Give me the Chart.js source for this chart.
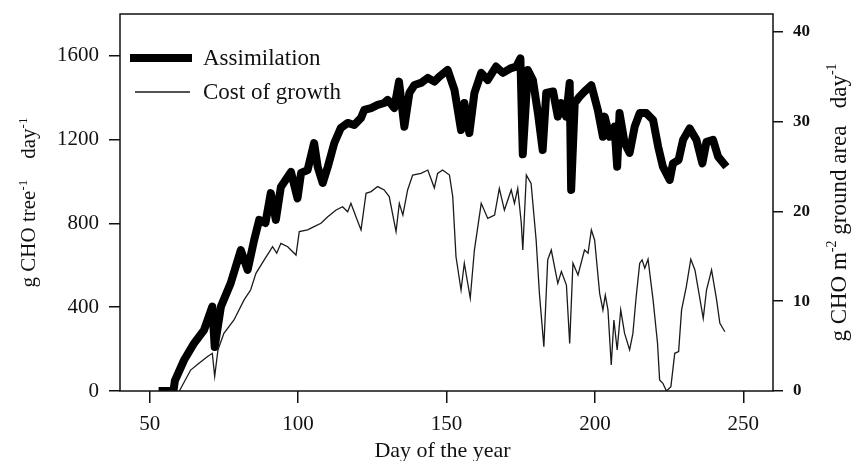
<!DOCTYPE html>
<html>
<head>
<meta charset="utf-8">
<script src="https://cdn.jsdelivr.net/npm/chart.js@4.4.1/dist/chart.umd.min.js"></script>
<style>
    html, body { margin: 0; padding: 0; background: #fff; }
    #wrap { width: 853px; height: 461px; }
</style>
</head>
<body>
<div id="wrap"><canvas id="carbonChart" width="853" height="461"></canvas></div>
<script>
// Daily assimilation (g CHO per tree per day)
const assimDays = [
    53, 55, 58, 58.5, 61.6, 65, 68.3, 71.1, 71.9, 74, 77.3, 80.7, 83, 85.2, 86.9, 89, 90.8, 92.5, 94.2,
    97.6, 99.8, 101, 103.2, 105.4, 106.6, 108.3, 110, 112.2, 114.4, 116.7, 118.9, 121.2, 122.3, 124.6,
    126.8, 129, 130.2, 132.4, 134, 135.8, 137.5, 139.2, 141.4, 143.7, 145.9, 147.6, 150.4, 152.7, 154.9,
    156, 157.7, 159.4, 161.7, 163.9, 166.7, 169, 171.8, 173.5, 174.9, 175.7, 177.4, 179.1, 180.8, 182.4,
    183.6, 185.9, 187.5, 188.7, 190.3, 191.5, 192, 193.2, 194.8, 196.5, 198.8, 201, 202.7, 203.3, 205,
    206.6, 207.5, 208.3, 210, 211.7, 213.4, 215.1, 217.3, 219.6, 221.3, 222.9, 225.2, 226.3, 228.2,
    229.7, 231.9, 234.2, 236.2, 237.6, 239.8, 241.5, 244.3
];
const assimValues = [
    0, 0, 0, 50, 148, 229, 291, 403, 210, 403, 515, 673, 578, 721, 817, 802, 945, 817, 974,
    1046, 920, 1041, 1055, 1184, 1070, 993, 1070, 1184, 1256, 1280, 1270, 1304, 1342, 1351,
    1366, 1375, 1390, 1351, 1477, 1262, 1423, 1461, 1471, 1495, 1477, 1501, 1533, 1437, 1246,
    1375, 1232, 1423, 1519, 1485, 1549, 1519, 1542, 1549, 1588, 1130, 1533, 1485, 1327, 1151,
    1423, 1430, 1310, 1375, 1310, 1471, 960, 1375, 1405, 1430, 1460, 1340, 1214, 1310, 1214,
    1262, 1071, 1327, 1184, 1137, 1262, 1327, 1327, 1294, 1167, 1071, 1008, 1087, 1103,
    1199, 1254, 1199, 1087, 1190, 1199, 1119, 1071
];

// Daily cost of growth (g CHO per tree per day)
const costDays = [
    60, 63.8, 66.6, 69.4, 71.1, 71.9, 73, 75, 78.4, 81.8, 84, 85.8, 88.6, 91.4, 92.8, 94.2, 96.5, 99.3,
    100.4, 103.2, 105.4, 107.7, 110, 112.8, 115, 116.7, 117.8, 119.5, 121.2, 122.9, 124.6, 126.8, 129,
    130.7, 133, 134.1, 135.3, 136.9, 138.6, 141.4, 143.7, 145.9, 147, 148.7, 151, 152.1, 153.2, 154.9,
    156, 158, 159.4, 161.7, 163.9, 166.2, 167.8, 169.5, 171.8, 172.9, 174, 175.2, 175.7, 176.9, 178.5,
    180.2, 181.3, 182.8, 184.1, 185.3, 187.5, 188.7, 190.4, 191.5, 192.6, 194.3, 196.5, 197.7, 198.8,
    199.9, 201.6, 202.7, 203.5, 204.4, 205.5, 206.4, 207.5, 208.7, 210, 211.7, 212.8, 213.9, 215.1,
    215.9, 216.8, 217.9, 219.6, 221.1, 221.8, 222.9, 224.1, 225.6, 226.9, 228.2, 229.2, 230.8, 232.3,
    233.7, 236.5, 237.6, 239.3, 241, 242.1, 243.8
];
const costValues = [
    0, 100, 132, 164, 180, 70, 196, 275, 339, 435, 482, 562, 626, 689, 658, 705, 689, 649,
    761, 769, 785, 801, 832, 864, 880, 856, 896, 832, 769, 944, 952, 976, 960,
    928, 761, 896, 840, 960, 1031, 1039, 1055, 970, 1039, 1055, 1031, 928, 641, 482,
    610, 443, 673, 896, 824, 840, 967, 864, 960, 896, 967, 801, 673, 1031, 991,
    721, 466, 212, 626, 673, 514, 570, 506, 227, 610, 554, 673, 658, 769,
    721, 466, 387, 458, 387, 124, 339, 196, 387, 275, 196, 275, 450, 610,
    626, 586, 629, 435, 227, 53, 37, 0, 21, 180, 188, 387, 498, 629,
    578, 347, 482, 578, 435, 323, 283
];

// Axis ticks
const xTicks = [50, 100, 150, 200, 250];
const leftTicks = [0, 400, 800, 1200, 1600];
const rightTicks = [0, 10, 20, 30, 40];

const SERIF = '"Liberation Serif", "Times New Roman", serif';
const INK = '#111';

function toPoints(days, values) {
    return days.map((d, i) => ({ x: d, y: values[i] }));
}

// Draws text made of plain and superscript pieces, centred on (0,0)
function drawRich(ctx, parts, size) {
    const supSize = Math.round(size * 0.62);
    let total = 0;
    parts.forEach(p => {
        ctx.font = (p.sup ? supSize : size) + 'px ' + SERIF;
        p.w = ctx.measureText(p.t).width;
        total += p.w;
    });
    let x = -total / 2;
    ctx.textAlign = 'left';
    ctx.textBaseline = 'alphabetic';
    parts.forEach(p => {
        ctx.font = (p.sup ? supSize : size) + 'px ' + SERIF;
        ctx.fillText(p.t, x, p.sup ? size * 0.35 - size * 0.42 : size * 0.35);
        x += p.w;
    });
}

const frameAndLabels = {
    id: 'frameAndLabels',
    afterDraw(chart) {
        const ctx = chart.ctx;
        const a = chart.chartArea;
        ctx.save();

        // frame round the plot
        ctx.strokeStyle = INK;
        ctx.lineWidth = 1.5;
        ctx.strokeRect(a.left, a.top, a.right - a.left, a.bottom - a.top);

        // legend in the upper left corner
        const sets = chart.data.datasets;
        const rows = [
            { ds: sets[0], x0: a.left + 10, x1: a.left + 72, y: a.top + 44 },
            { ds: sets[1], x0: a.left + 15, x1: a.left + 70, y: a.top + 78 }
        ];
        rows.forEach(r => {
            ctx.beginPath();
            ctx.lineCap = 'butt';
            ctx.strokeStyle = r.ds.borderColor;
            ctx.lineWidth = r.ds.borderWidth;
            ctx.moveTo(r.x0, r.y);
            ctx.lineTo(r.x1, r.y);
            ctx.stroke();
            ctx.fillStyle = INK;
            ctx.font = '23px ' + SERIF;
            ctx.textAlign = 'left';
            ctx.textBaseline = 'middle';
            ctx.fillText(r.ds.label, a.left + 83, r.y + 1);
        });

        // axis titles
        ctx.fillStyle = INK;
        ctx.save();
        ctx.translate((a.left + a.right) / 2 - 4, 449);
        drawRich(ctx, [{ t: 'Day of the year' }], 22);
        ctx.restore();

        ctx.save();
        ctx.translate(28, (a.top + a.bottom) / 2);
        ctx.rotate(-Math.PI / 2);
        drawRich(ctx, [
            { t: 'g CHO tree' }, { t: '-1', sup: true },
            { t: '    day' }, { t: '-1', sup: true }
        ], 21);
        ctx.restore();

        ctx.save();
        ctx.translate(838, (a.top + a.bottom) / 2);
        ctx.rotate(-Math.PI / 2);
        drawRich(ctx, [
            { t: 'g CHO m' }, { t: '-2', sup: true },
            { t: ' ground area   day' }, { t: '-1', sup: true }
        ], 23);
        ctx.restore();

        ctx.restore();
    }
};

const tickGrid = {
    display: true,
    drawOnChartArea: false,
    drawTicks: true,
    color: INK,
    lineWidth: 1.5
};

// fixed scale sizes, no extra label overhang padding
function fixVertical(width) {
    return s => {
        s.width = width;
        s.paddingTop = 0;
        s.paddingBottom = 0;
    };
}

const ctx = document.getElementById('carbonChart').getContext('2d');
const chart = new Chart(ctx, {
    type: 'line',
    data: {
        datasets: [
            {
                label: 'Assimilation',
                data: toPoints(assimDays, assimValues),
                borderColor: '#000',
                borderWidth: 8,
                borderJoinStyle: 'round',
                pointRadius: 0,
                tension: 0,
                yAxisID: 'y',
                order: 2
            },
            {
                label: 'Cost of growth',
                data: toPoints(costDays, costValues),
                borderColor: '#1a1a1a',
                borderWidth: 1.3,
                pointRadius: 0,
                tension: 0,
                yAxisID: 'y',
                order: 1
            }
        ]
    },
    options: {
        responsive: false,
        devicePixelRatio: 1,
        animation: false,
        layout: {
            padding: { top: 14, left: 0, right: 0, bottom: 0 }
        },
        plugins: {
            legend: { display: false },
            tooltip: { enabled: false }
        },
        scales: {
            x: {
                type: 'linear',
                min: 40,
                max: 260,
                afterBuildTicks: s => { s.ticks = xTicks.map(v => ({ value: v })); },
                afterFit: s => {
                    s.height = 70;
                    s.paddingLeft = 0;
                    s.paddingRight = 0;
                },
                grid: { ...tickGrid, tickLength: 12 },
                border: { display: false },
                ticks: {
                    color: INK,
                    padding: 9,
                    maxRotation: 0,
                    callback: v => String(v),
                    font: { family: SERIF, size: 21 }
                }
            },
            y: {
                position: 'left',
                min: 0,
                max: 1800,
                afterBuildTicks: s => { s.ticks = leftTicks.map(v => ({ value: v })); },
                afterFit: fixVertical(120),
                grid: { ...tickGrid, tickLength: 11 },
                border: { display: false },
                ticks: {
                    color: INK,
                    padding: 10,
                    callback: v => String(v),
                    font: { family: SERIF, size: 21 }
                }
            },
            y1: {
                position: 'right',
                min: 0,
                max: 42,
                afterBuildTicks: s => { s.ticks = rightTicks.map(v => ({ value: v })); },
                afterFit: fixVertical(80),
                grid: { ...tickGrid, tickLength: 10 },
                border: { display: false },
                ticks: {
                    color: INK,
                    padding: 10,
                    callback: v => String(v),
                    font: { family: SERIF, size: 17, weight: 'bold' }
                }
            }
        }
    },
    plugins: [frameAndLabels]
});
</script>
</body>
</html>
